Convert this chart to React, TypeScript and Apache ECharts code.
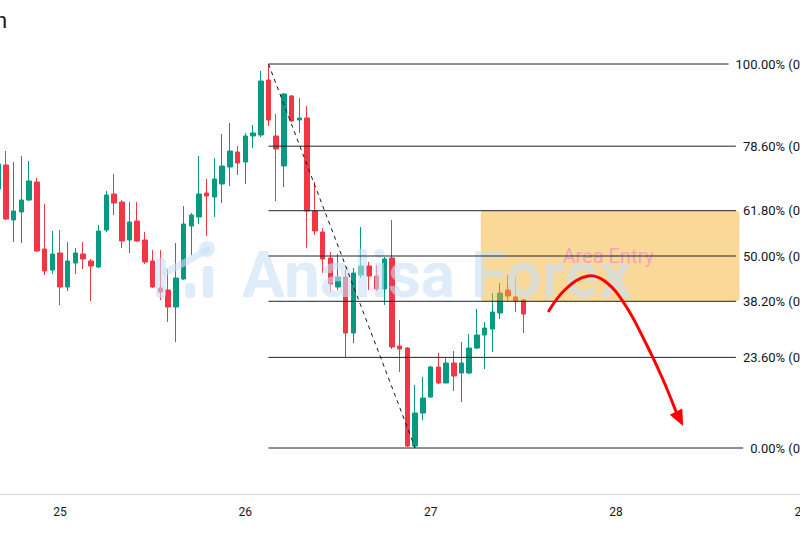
import React, { useEffect, useRef } from 'react';
import * as echarts from 'echarts';

// hour index relative to 25th 00:00 of the first candle
const firstHour = -8;
// hourly candles: [open, close, low, high]
const candles: number[][] = [
  [0.65518, 0.65568, 0.65512, 0.65576],
  [0.65566, 0.65458, 0.65456, 0.65594],
  [0.65456, 0.65474, 0.65412, 0.65572],
  [0.65472, 0.65496, 0.6541, 0.65584],
  [0.65496, 0.65534, 0.65494, 0.65574],
  [0.65532, 0.65394, 0.65392, 0.6554],
  [0.65398, 0.65354, 0.65346, 0.65488],
  [0.65356, 0.65388, 0.65348, 0.65434],
  [0.6539, 0.65322, 0.65286, 0.65436],
  [0.65322, 0.65374, 0.65314, 0.65412],
  [0.6537, 0.6539, 0.65348, 0.654],
  [0.65388, 0.65378, 0.65358, 0.65412],
  [0.65374, 0.65364, 0.65294, 0.65378],
  [0.65362, 0.65434, 0.6536, 0.65446],
  [0.65436, 0.65506, 0.65432, 0.65514],
  [0.65508, 0.6549, 0.65466, 0.65548],
  [0.65492, 0.65414, 0.654, 0.65496],
  [0.65416, 0.65452, 0.6539, 0.65492],
  [0.65454, 0.65414, 0.65412, 0.65492],
  [0.65416, 0.65372, 0.65368, 0.65432],
  [0.65374, 0.65322, 0.6532, 0.65396],
  [0.6532, 0.65312, 0.65296, 0.65396],
  [0.65316, 0.65282, 0.65252, 0.65358],
  [0.65282, 0.6534, 0.65212, 0.6541],
  [0.65338, 0.65448, 0.65336, 0.65484],
  [0.65444, 0.65466, 0.65386, 0.6547],
  [0.65462, 0.65508, 0.65448, 0.65584],
  [0.6551, 0.65504, 0.65424, 0.65538],
  [0.65502, 0.65538, 0.65462, 0.6558],
  [0.65528, 0.65564, 0.6549, 0.65628],
  [0.65562, 0.65594, 0.65524, 0.6565],
  [0.65592, 0.6557, 0.65546, 0.65604],
  [0.65572, 0.65624, 0.65528, 0.6563],
  [0.65624, 0.6563, 0.656, 0.65646],
  [0.65626, 0.65734, 0.65622, 0.65754],
  [0.65736, 0.65656, 0.65644, 0.65768],
  [0.65624, 0.65598, 0.65494, 0.65668],
  [0.65564, 0.65708, 0.65522, 0.6571],
  [0.65704, 0.65654, 0.65652, 0.65706],
  [0.65656, 0.6566, 0.6563, 0.657],
  [0.6566, 0.65474, 0.654, 0.65684],
  [0.65474, 0.65434, 0.65426, 0.65532],
  [0.65432, 0.65378, 0.6535, 0.6544],
  [0.6538, 0.65328, 0.65312, 0.65392],
  [0.65322, 0.65342, 0.65316, 0.65388],
  [0.65342, 0.6523, 0.65182, 0.65356],
  [0.6523, 0.6535, 0.6521, 0.6536],
  [0.65346, 0.65364, 0.6534, 0.65442],
  [0.65364, 0.65344, 0.65316, 0.65372],
  [0.65344, 0.65318, 0.65314, 0.65366],
  [0.65318, 0.65378, 0.65286, 0.65382],
  [0.6538, 0.65202, 0.65198, 0.65456],
  [0.65204, 0.65198, 0.65152, 0.65256],
  [0.652, 0.65004, 0.65002, 0.65202],
  [0.65004, 0.6507, 0.65, 0.65126],
  [0.6507, 0.651, 0.65056, 0.65142],
  [0.65102, 0.65162, 0.651, 0.65164],
  [0.65162, 0.6513, 0.65128, 0.6519],
  [0.6513, 0.6517, 0.6513, 0.6518],
  [0.6517, 0.65144, 0.65114, 0.65194],
  [0.6515, 0.6517, 0.65092, 0.65212],
  [0.6515, 0.652, 0.65148, 0.65228],
  [0.652, 0.65226, 0.65198, 0.65278],
  [0.65226, 0.6524, 0.65158, 0.65252],
  [0.65238, 0.65272, 0.65192, 0.6531],
  [0.6527, 0.6531, 0.65258, 0.6533],
  [0.65316, 0.65304, 0.65294, 0.65346],
  [0.65302, 0.65294, 0.65272, 0.65344],
  [0.65296, 0.65268, 0.6523, 0.65298],
];

const dayHours = [0, 24, 48, 72, 96];
const dayLabels = ['25', '26', '27', '28', '29'];

const fibLevels = [1, 0.786, 0.618, 0.5, 0.382, 0.236, 0];
const swingHighHour = 27;
const swingLowHour = 46;
const fibLabelRightHour = 101.6;

const zoneFromHour = 54.5;
const zoneToHour = 88;
const zoneUpperLevel = 0.618;
const zoneLowerLevel = 0.382;
const zoneLabel = 'Area Entry';

// hand-drawn arrow path (hour, price)
const arrowPath: number[][] = [
  [63.3, 0.65274],
  [65.5, 0.65318],
  [68.4, 0.65344],
  [70.7, 0.65332],
  [73.2, 0.65286],
  [75.8, 0.65212],
  [78.0, 0.6514],
  [79.8, 0.65072],
];
const arrowTip = [80.7, 0.65044];

const watermarkText = 'Analisa Forex';
const titleFragment = 'n';

// chart canvas is a bit wider than the visible 800px window (right edge is cropped)
const CHART_W = 830;
const X_MIN = -7.77;
const X_MAX = 99.72;
const Y_MIN = 0.64908;
const Y_MAX = 0.65896;

const UP = '#089981';
const DOWN = '#F23645';
const INK = '#131722';
const FONT = 'Roboto, "Noto Sans", sans-serif';

let measureCtx: CanvasRenderingContext2D | null = null;
function textWidth(t: string, font: string): number {
  if (!measureCtx) measureCtx = document.createElement('canvas').getContext('2d');
  if (!measureCtx) return t.length * 7;
  measureCtx.font = font;
  return measureCtx.measureText(t).width;
}

export default function App() {
  const ref = useRef<HTMLDivElement>(null);

  useEffect(() => {
    if (!ref.current) return;
    const chart = echarts.init(ref.current, undefined, { renderer: 'svg' });

    const hi = candles[swingHighHour - firstHour][3];
    const lo = candles[swingLowHour - firstHour][2];
    const priceAt = (lvl: number) => lo + lvl * (hi - lo);

    const wm = 'rgba(200,225,245,0.6)';

    const option: any = {
      animation: false,
      backgroundColor: '#ffffff',
      grid: { left: 0, right: 0, top: 0, bottom: 39, containLabel: false },
      xAxis: {
        type: 'value',
        min: X_MIN,
        max: X_MAX,
        axisLine: { show: true, onZero: false, lineStyle: { color: '#d1d4dc', width: 1 } },
        axisTick: { show: false },
        splitLine: { show: false },
        axisLabel: {
          customValues: dayHours,
          formatter: (v: number) => {
            const i = dayHours.indexOf(Math.round(v));
            return i >= 0 ? dayLabels[i] : '';
          },
          color: INK,
          fontSize: 12,
          fontFamily: FONT,
          margin: 12,
          showMinLabel: true,
          showMaxLabel: true,
        },
      },
      yAxis: {
        type: 'value',
        min: Y_MIN,
        max: Y_MAX,
        show: false,
        splitLine: { show: false },
      },
      series: [
        {
          type: 'candlestick',
          z: 2,
          barWidth: 5,
          encode: { x: 0, y: [1, 2, 3, 4] },
          data: candles.map((c, i) => [firstHour + i, c[0], c[1], c[2], c[3]]),
          itemStyle: {
            color: UP,
            color0: DOWN,
            borderColor: UP,
            borderColor0: DOWN,
            borderWidth: 1,
          },
        },
        {
          type: 'custom',
          z: 3,
          data: [[zoneFromHour, priceAt(zoneUpperLevel)]],
          renderItem: (_p: any, api: any) => {
            const a = api.coord([zoneFromHour, priceAt(zoneUpperLevel)]);
            const b = api.coord([zoneToHour, priceAt(zoneLowerLevel)]);
            const mid = api.coord([(zoneFromHour + zoneToHour) / 2, priceAt((zoneUpperLevel + zoneLowerLevel) / 2)]);
            return {
              type: 'group',
              children: [
                {
                  type: 'rect',
                  shape: { x: a[0], y: a[1], width: b[0] - a[0], height: b[1] - a[1], r: 3 },
                  style: { fill: 'rgba(246,178,50,0.5)' },
                },
                {
                  type: 'text',
                  z2: 10,
                  style: {
                    x: mid[0] - 2,
                    y: mid[1],
                    text: zoneLabel,
                    fill: '#f5a3bd',
                    font: '20px ' + FONT,
                    align: 'center',
                    verticalAlign: 'middle',
                    textAlign: 'center',
                    textVerticalAlign: 'middle',
                  },
                },
              ],
            };
          },
        },
        {
          type: 'custom',
          z: 6,
          data: fibLevels.map((l) => [swingHighHour, priceAt(l), l]),
          encode: { x: 0, y: 1 },
          renderItem: (_p: any, api: any) => {
            const lvl = api.value(2);
            const price = api.value(1);
            const s = api.coord([swingHighHour, price]);
            const r = api.coord([fibLabelRightHour, price]);
            const label = `${(lvl * 100).toFixed(2)}% (${price.toFixed(5)})`;
            const font = '13px ' + FONT;
            const w = textWidth(label, font);
            return {
              type: 'group',
              children: [
                {
                  type: 'line',
                  shape: { x1: s[0], y1: s[1], x2: r[0] - w - 7, y2: s[1] },
                  style: { stroke: '#1e222d', lineWidth: 1 },
                },
                {
                  type: 'text',
                  style: {
                    x: r[0],
                    y: s[1],
                    text: label,
                    fill: INK,
                    font,
                    align: 'right',
                    verticalAlign: 'middle',
                    textAlign: 'right',
                    textVerticalAlign: 'middle',
                  },
                },
              ],
            };
          },
        },
        {
          type: 'custom',
          z: 7,
          data: [[swingHighHour, hi]],
          renderItem: (_p: any, api: any) => {
            const t1 = api.coord([swingHighHour, hi]);
            const t2 = api.coord([swingLowHour, lo]);
            const pts = arrowPath.map((p) => api.coord(p));
            const tip = api.coord(arrowTip);
            const last = pts[pts.length - 1];
            let dx = tip[0] - last[0];
            let dy = tip[1] - last[1];
            const len = Math.hypot(dx, dy) || 1;
            dx /= len;
            dy /= len;
            const L = 16;
            const H = 7;
            const bx = tip[0] - dx * L;
            const by = tip[1] - dy * L;
            return {
              type: 'group',
              children: [
                {
                  type: 'line',
                  shape: { x1: t1[0], y1: t1[1], x2: t2[0], y2: t2[1] },
                  style: { stroke: '#131722', lineWidth: 1, lineDash: [4, 4] },
                },
                {
                  type: 'polyline',
                  shape: { points: pts, smooth: 0.4 },
                  style: { stroke: '#ff0000', lineWidth: 3, fill: 'none', lineCap: 'round' },
                },
                {
                  type: 'polygon',
                  shape: {
                    points: [
                      tip,
                      [bx - dy * H, by + dx * H],
                      [bx + dy * H, by - dx * H],
                    ],
                  },
                  style: { fill: '#ff0000' },
                },
              ],
            };
          },
        },
      ],
      graphic: [
        {
          type: 'group',
          z: 5,
          children: [
            { type: 'rect', z: 5, shape: { x: 156, y: 258, width: 10, height: 40, r: 4 }, style: { fill: wm } },
            { type: 'rect', z: 5, shape: { x: 185, y: 283, width: 10, height: 15, r: 4 }, style: { fill: wm } },
            { type: 'rect', z: 5, shape: { x: 203, y: 266, width: 10, height: 32, r: 4 }, style: { fill: wm } },
            {
              type: 'polyline',
              z: 5,
              shape: { points: [[166, 272], [186, 262], [207, 250]] },
              style: { stroke: wm, lineWidth: 7, lineCap: 'round', fill: 'none' },
            },
            { type: 'circle', z: 5, shape: { cx: 207, cy: 249, r: 8 }, style: { fill: wm } },
            {
              type: 'text',
              z: 5,
              x: 242,
              y: 275,
              style: {
                text: watermarkText,
                fill: wm,
                font: 'bold 64px ' + FONT,
                textVerticalAlign: 'middle',
                verticalAlign: 'middle',
              },
            },
          ],
        },
        {
          type: 'text',
          z: 8,
          x: -5,
          y: 20,
          style: {
            text: titleFragment,
            fill: INK,
            font: '22px ' + FONT,
            textVerticalAlign: 'middle',
            verticalAlign: 'middle',
          },
        },
      ],
    };

    chart.setOption(option);
    return () => chart.dispose();
  }, []);

  return (
    <div
      style={{
        position: 'absolute',
        left: 0,
        top: 0,
        width: 800,
        height: 533,
        overflow: 'hidden',
        background: '#fff',
      }}
    >
      <div ref={ref} style={{ width: CHART_W, height: 533 }} />
    </div>
  );
}
